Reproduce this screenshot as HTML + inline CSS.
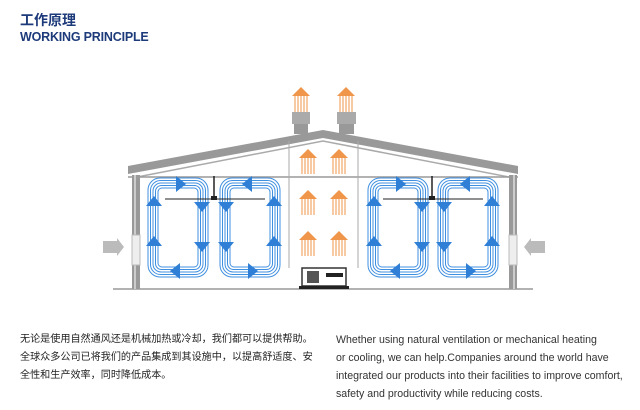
<!DOCTYPE html>
<html><head><meta charset="utf-8"><style>
body{margin:0;width:640px;height:410px;background:#fff;overflow:hidden;position:relative;font-family:"Liberation Sans","Noto Sans CJK SC",sans-serif}
.t1{position:absolute;left:20px;top:10px;font-size:14px;font-weight:bold;color:#1d3a7a;font-family:"Liberation Sans","Noto Sans CJK SC",sans-serif}
.t2{position:absolute;left:20px;top:30px;font-size:12.5px;font-weight:bold;color:#1d3a7a;letter-spacing:-0.2px}
.cn{position:absolute;left:20px;top:331px;font-size:10.1px;line-height:18px;color:#222;white-space:nowrap}
.en{position:absolute;left:336px;top:331px;font-size:10.6px;line-height:18px;color:#333;letter-spacing:0px;white-space:nowrap}
svg{position:absolute;left:0;top:0}
</style></head><body>
<div class="t1">工作原理</div>
<div class="t2">WORKING PRINCIPLE</div>
<svg width="640" height="410" viewBox="0 0 640 410">
<defs>
<g id="loop" fill="none" stroke="#3f8fe0" stroke-width="1">
<rect x="0" y="0" width="60" height="99" rx="12"/>
<rect x="2.5" y="2.5" width="55" height="94" rx="10"/>
<rect x="5" y="5" width="50" height="89" rx="8"/>
<rect x="7.5" y="7.5" width="45" height="84" rx="6"/>
<rect x="10" y="10" width="40" height="79" rx="4"/>
<g fill="#2f7fd6" stroke="none">
<polygon points="-2,28 14,28 6,18"/><polygon points="-2,68 14,68 6,58"/>
<polygon points="46,24 62,24 54,34"/><polygon points="46,64 62,64 54,74"/>
<polygon points="28,-2 28,14 38,6"/><polygon points="32,85 32,101 22,93"/>
</g></g>
<g id="or" fill="none" stroke="#f0964a" stroke-width="1">
<line x1="2" y1="8" x2="2" y2="25"/><line x1="5" y1="6" x2="5" y2="25"/><line x1="8" y1="5" x2="8" y2="25"/><line x1="11" y1="6" x2="11" y2="25"/><line x1="14" y1="8" x2="14" y2="25"/>
<polygon points="-1,9 8,0 17,9" fill="#f0964a" stroke="none"/>
</g>
</defs>
<line x1="113" y1="289" x2="533" y2="289" stroke="#999" stroke-width="1.5"/>
<polygon points="128,166 323,130 518,166 518,174 323,138 128,174" fill="#999"/>
<polyline points="132,178 323,141 514,178" fill="none" stroke="#aaa" stroke-width="1.5"/>
<line x1="128" y1="177" x2="518" y2="177" stroke="#999" stroke-width="1.5"/>
<rect x="132" y="175" width="8" height="114" fill="#999"/>
<rect x="134" y="175" width="2" height="114" fill="#ccc"/>
<rect x="509" y="175" width="8" height="114" fill="#999"/>
<rect x="513" y="175" width="2" height="114" fill="#ccc"/>
<rect x="132" y="235" width="8" height="30" fill="#eee" stroke="#bbb"/>
<rect x="509" y="235" width="8" height="30" fill="#eee" stroke="#bbb"/>
<line x1="289" y1="141" x2="289" y2="268" stroke="#aaa" stroke-width="1"/>
<line x1="358" y1="141" x2="358" y2="268" stroke="#aaa" stroke-width="1"/>
<rect x="292" y="112" width="18" height="12" fill="#aaa"/><rect x="294" y="124" width="14" height="10" fill="#999"/>
<rect x="337" y="112" width="19" height="12" fill="#aaa"/><rect x="339" y="124" width="15" height="10" fill="#999"/>
<g fill="#bbb"><rect x="103" y="241" width="14" height="12"/><polygon points="117,238 124,247 117,256"/>
<rect x="531" y="241" width="14" height="12"/><polygon points="531,238 524,247 531,256"/></g>
<use href="#or" x="293" y="87"/><use href="#or" x="338" y="87"/>
<use href="#or" x="300" y="149"/><use href="#or" x="331" y="149"/>
<use href="#or" x="300" y="190"/><use href="#or" x="331" y="190"/>
<use href="#or" x="300" y="231"/><use href="#or" x="331" y="231"/>
<rect x="302" y="268" width="44" height="18" fill="#fff" stroke="#333" stroke-width="1.5"/>
<rect x="307" y="271" width="12" height="12" fill="#555"/>
<rect x="326" y="273" width="17" height="4" fill="#222"/>
<rect x="299" y="286" width="50" height="3" fill="#222"/>
<use href="#loop" x="148" y="178"/>
<use href="#loop" transform="translate(280,178) scale(-1,1)"/>
<use href="#loop" x="368" y="178"/>
<use href="#loop" transform="translate(498,178) scale(-1,1)"/>
<g stroke="#222"><line x1="214" y1="176" x2="214" y2="198" stroke-width="1.5"/><line x1="165" y1="199" x2="265" y2="199"/>
<line x1="432" y1="176" x2="432" y2="198" stroke-width="1.5"/><line x1="383" y1="199" x2="483" y2="199"/></g>
<rect x="211" y="196" width="6" height="4" fill="#222"/><rect x="429" y="196" width="6" height="4" fill="#222"/>
</svg>
<div class="cn">无论是使用自然通风还是机械加热或冷却，我们都可以提供帮助。<br>全球众多公司已将我们的产品集成到其设施中，以提高舒适度、安<br>全性和生产效率，同时降低成本。</div>
<div class="en">Whether using natural ventilation or mechanical heating<br>or cooling, we can help.Companies around the world have<br>integrated our products into their facilities to improve comfort,<br>safety and productivity while reducing costs.</div>
</body></html>
